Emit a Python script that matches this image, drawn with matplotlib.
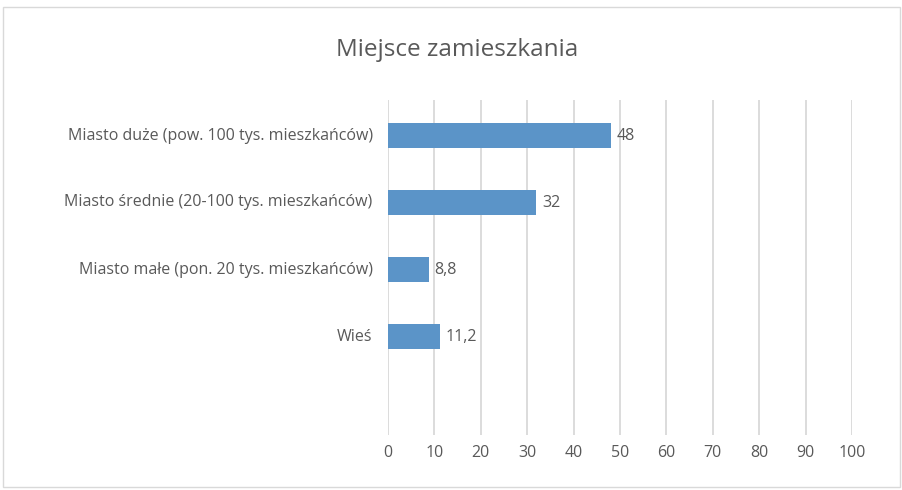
import matplotlib.pyplot as plt
from matplotlib.patches import Rectangle

categories = ['Miasto duże (pow. 100 tys. mieszkańców)',
              'Miasto średnie (20-100 tys. mieszkańców)',
              'Miasto małe (pon. 20 tys. mieszkańców)',
              'Wieś',
              '']
values = [48, 32, 8.8, 11.2, None]
value_labels = ['48', '32', '8,8', '11,2', '']
x_ticks = [0, 10, 20, 30, 40, 50, 60, 70, 80, 90, 100]

plt.rcParams['font.family'] = ['Open Sans', 'DejaVu Sans']
text_color = '#595959'
bar_color = '#5b94c8'
grid_color = '#d9d9d9'

W, H = 903, 490
fig = plt.figure(figsize=(W / 100, H / 100), dpi=100)
fig.patches.append(Rectangle((3 / W, 3 / H), (W - 6) / W, (H - 10) / H,
                             transform=fig.transFigure, fill=False,
                             edgecolor=grid_color, linewidth=1))

ax = fig.add_axes([388 / W, (H - 435) / H, (852 - 388) / W, 335 / H])

pos = list(range(len(categories)))
for i, v in enumerate(values):
    if v is None:
        continue
    ax.barh(i + 0.03, v, height=0.36, color=bar_color, zorder=3)
    ax.annotate(value_labels[i], (v, i + 0.03), xytext=(4, 0), textcoords='offset points',
                va='center', ha='left', fontsize=11.5, color=text_color)

ax.set_yticks(pos)
ax.set_yticklabels(categories)
ax.set_ylim(len(categories) - 0.5, -0.5)
ax.set_xlim(0, 100)
ax.set_xticks(x_ticks)

for s in ax.spines.values():
    s.set_visible(False)
ax.tick_params(axis='both', length=0, labelsize=11.5, colors=text_color)
ax.tick_params(axis='y', pad=11)
ax.tick_params(axis='x', pad=7)
ax.grid(axis='x', color=grid_color, linewidth=1.3, zorder=0)
ax.set_axisbelow(True)

fig.text(0.5 * (338 + 577) / W, 1 - 50 / H, 'Miejsce zamieszkania', ha='center',
         va='center', fontsize=17.5, color=text_color)

fig.savefig('out.png', dpi=100)
